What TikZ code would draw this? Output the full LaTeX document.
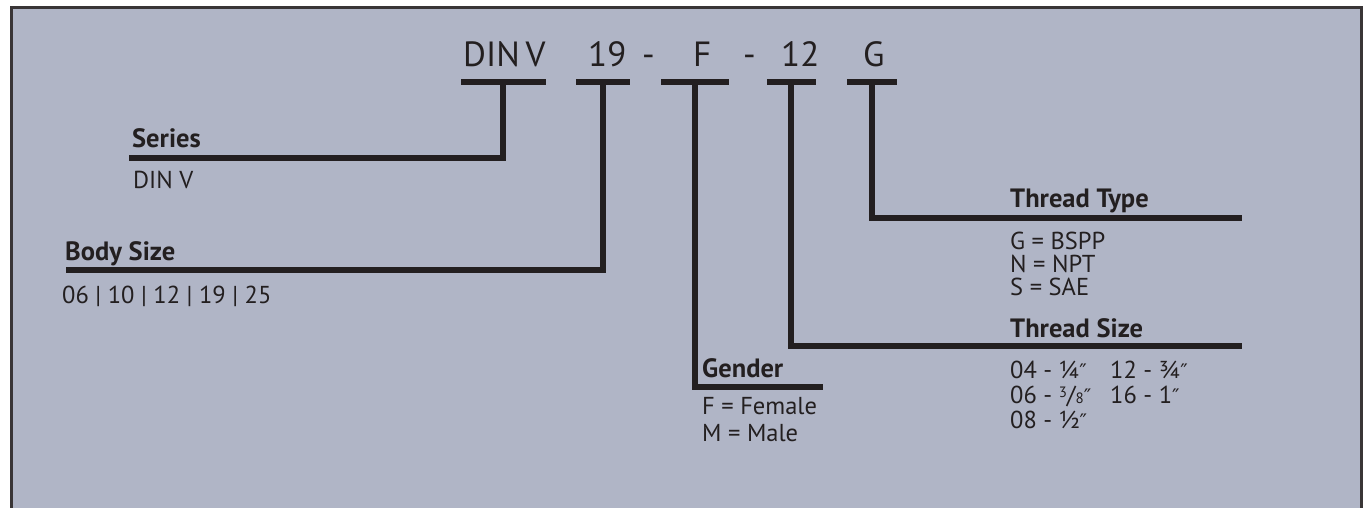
\documentclass[tikz,border=0pt]{standalone}
\usepackage{fontspec}
\setmainfont{PT Sans}
\newfontfamily\primefont{DejaVu Sans}
\usepackage{xcolor}
\definecolor{codeBg}{RGB}{176, 181, 198}
\definecolor{codeInk}{RGB}{35, 31, 32}
\usepackage{tikz}
\usetikzlibrary{positioning}

\newcommand{\inchmark}{{\primefont\fontsize{20}{20}\selectfont ″}}
\newcommand{\threeeighths}{{\fontsize{15}{15}\selectfont\raisebox{0.4em}{3}}/{\fontsize{15}{15}\selectfont 8}}

\begin{document}
\begin{tikzpicture}[
    x=1pt, y=-1pt,
    codePart/.style={
        anchor=base west, inner sep=0pt, text=codeInk,
        font=\fontsize{35}{35}\selectfont
    },
    tBar/.style={
        rectangle, fill=codeInk, inner sep=0pt, minimum height=6pt
    },
    fieldLabel/.style={
        anchor=base west, inner sep=0pt, text=codeInk,
        font=\bfseries\fontsize{26.5}{26.5}\selectfont
    },
    fieldValue/.style={
        anchor=north west, inner sep=0pt, text=codeInk, align=left,
        font=\fontsize{24.5}{25}\selectfont
    },
    leadLine/.style={
        draw=codeInk, line width=6pt
    }
]

    % Frame
    \path[use as bounding box] (0,0) rectangle (1363,508);
    \clip (0,0) rectangle (1363,508);
    \draw[draw=codeInk!90, line width=3pt, fill=codeBg] (11.5,7.5) rectangle (1361.5,540);

    % Order code
    \node[codePart] (seriesCode) at (463,67) {DIN\,V};
    \node[codePart] (sizeCode) at (588,67) {19};
    \node[codePart] (dashA) at (642,67) {-};
    \node[codePart] (genderCode) at (693,67) {F};
    \node[codePart] (dashB) at (743,67) {-};
    \node[codePart] (tsizeCode) at (781,67) {12};
    \node[codePart] (ttypeCode) at (863,67) {G};

    % T-bars under the code
    \node[tBar, minimum width=85pt] (seriesT) at (503,82) {};
    \node[tBar, minimum width=54pt] (sizeT) at (603,82) {};
    \node[tBar, minimum width=68pt] (genderT) at (695,82) {};
    \node[tBar, minimum width=49pt] (tsizeT) at (791,82) {};
    \node[tBar, minimum width=50pt] (ttypeT) at (872,82) {};

    % Line ends
    \coordinate (seriesEnd) at (129,158);
    \coordinate (sizeEnd) at (66,270);
    \coordinate (genderEnd) at (823,387);
    \coordinate (tsizeEnd) at (1242,346);
    \coordinate (ttypeEnd) at (1242,218);

    % Fields
    \node[fieldLabel] (seriesLabel) at (132,148) {Series};
    \node[fieldValue] (seriesValue) at (133,171) {DIN V};

    \node[fieldLabel] (sizeLabel) at (65,260) {Body Size};
    \node[fieldValue] (sizeValue) at (62,286) {06 | 10 | 12 | 19 | 25};

    \node[fieldLabel] (genderLabel) at (702,377) {Gender};
    \node[fieldValue, font=\fontsize{24.5}{27}\selectfont] (genderValue) at (702,397) {F = Female\\M = Male};

    \node[fieldLabel] (ttypeLabel) at (1010,207) {Thread Type};
    \node[fieldValue, font=\fontsize{24.5}{23}\selectfont] (ttypeValue) at (1010,232) {G = BSPP\\N = NPT\\S = SAE};

    \node[fieldLabel] (tsizeLabel) at (1010,337) {Thread Size};
    \node[fieldValue, font=\fontsize{24.5}{25}\selectfont] (tsizeValueA) at (1010,361) {04 - ¼\inchmark\\06 - \threeeighths\inchmark\\08 - ½\inchmark};
    \node[fieldValue, font=\fontsize{24.5}{25}\selectfont] (tsizeValueB) at (1110,361) {12 - ¾\inchmark\\16 - 1\inchmark};

    % Leader lines
    \draw[leadLine] (seriesT.center) |- (seriesEnd);
    \draw[leadLine] (sizeT.center) |- (sizeEnd);
    \draw[leadLine] (genderT.center) |- (genderEnd);
    \draw[leadLine] (tsizeT.center) |- (tsizeEnd);
    \draw[leadLine] (ttypeT.center) |- (ttypeEnd);

\end{tikzpicture}
\end{document}
